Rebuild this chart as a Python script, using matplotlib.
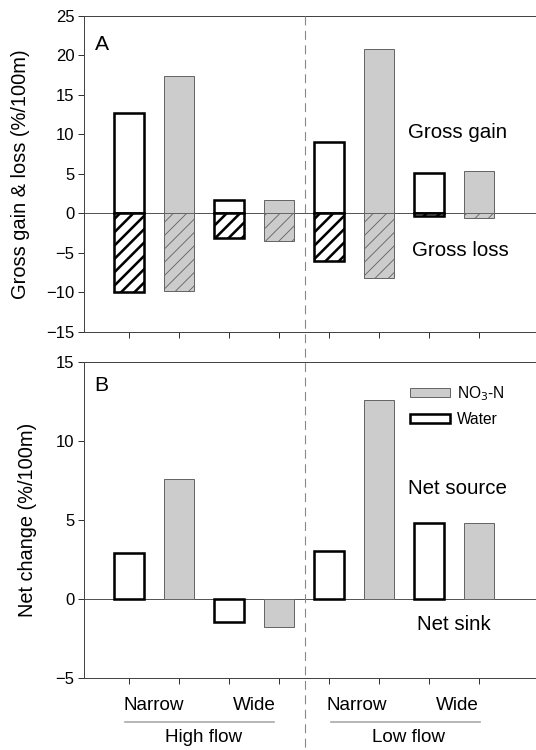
import numpy as np
import matplotlib.pyplot as plt
from matplotlib.lines import Line2D
from matplotlib.patches import Patch

plt.rcParams["font.family"] = ["Liberation Sans", "DejaVu Sans"]

# -----------------------------
# data
# -----------------------------
groups = ["High flow", "Low flow"]
widths = ["Narrow", "Wide"]

# order: High-Narrow, High-Wide, Low-Narrow, Low-Wide
water_gain = [12.7, 1.65, 9.0, 5.15]
water_loss = [-9.95, -3.15, -6.05, -0.3]
no3_gain = [17.4, 1.65, 20.8, 5.3]
no3_loss = [-9.85, -3.5, -8.15, -0.55]

water_net = [2.9, -1.45, 3.05, 4.8]
no3_net = [7.6, -1.75, 12.55, 4.8]

GRAY = "#cccccc"
DPI = 80
W, H = 536, 750

fig = plt.figure(figsize=(W / DPI, H / DPI), dpi=DPI)
fig.patch.set_facecolor("white")

x_water = np.arange(4) * 2
x_no3 = x_water + 1
bw = 0.6

left = 84 / W
width = 490 / W
axA = fig.add_axes([left, 1 - 332 / H, width, 316.3 / H])
axB = fig.add_axes([left, 1 - 678.3 / H, width, 316.6 / H])


def water_bar(ax, x, v, hatch=None):
    bars = ax.bar(x, v, bw, facecolor="white", edgecolor="black",
                  linewidth=2.3, hatch=hatch, zorder=3)
    for b in bars:
        if hatch:
            b.set_hatch_linewidth(2.3)
    return bars


def no3_bar(ax, x, v, hatch=None):
    bars = ax.bar(x, v, bw, facecolor=GRAY, edgecolor="#666666",
                  linewidth=0.9, hatch=hatch, zorder=3)
    for b in bars:
        if hatch:
            b.set_hatch_linewidth(0.8)
    return bars


# -----------------------------
# A: gross gain & loss
# -----------------------------
water_bar(axA, x_water, water_gain)
water_bar(axA, x_water, water_loss, hatch="//")
no3_bar(axA, x_no3, no3_gain)
no3_bar(axA, x_no3, no3_loss, hatch="//")

axA.set_ylim(-15, 25)
axA.set_yticks(np.arange(-15, 26, 5))
axA.set_ylabel("Gross gain & loss (%/100m)", fontsize=18, labelpad=15)
axA.text(-0.68, 21.4, "A", fontsize=19, va="center", ha="left")
axA.text(6.58, 10.2, "Gross gain", fontsize=18.5, va="center", ha="center")
axA.text(6.62, -4.7, "Gross loss", fontsize=18.5, va="center", ha="center")

# -----------------------------
# B: net change
# -----------------------------
water_bar(axB, x_water, water_net)
no3_bar(axB, x_no3, no3_net)

axB.set_ylim(-5, 15)
axB.set_yticks(np.arange(-5, 16, 5))
axB.set_ylabel("Net change (%/100m)", fontsize=18, labelpad=17)
axB.text(-0.7, 13.5, "B", fontsize=19, va="center", ha="left")
axB.text(6.56, 7.0, "Net source", fontsize=18.5, va="center", ha="center")
axB.text(6.5, -1.6, "Net sink", fontsize=18.5, va="center", ha="center")

handles = [
    Patch(facecolor=GRAY, edgecolor="#666666", linewidth=0.9, label="NO$_3$-N"),
    Patch(facecolor="white", edgecolor="black", linewidth=2.3, label="Water"),
]
axB.legend(handles=handles, loc="upper left", bbox_to_anchor=(0.665, 0.93),
           frameon=False, fontsize=14, handlelength=2.6, handleheight=0.55,
           handletextpad=0.45, labelspacing=0.6, borderpad=0, borderaxespad=0)

# -----------------------------
# common axis style
# -----------------------------
for ax in (axA, axB):
    ax.axhline(0, color="#555555", linewidth=0.9, zorder=2)
    ax.set_xlim(-0.9, 8.9)
    ax.set_xticks(np.arange(8))
    ax.set_xticklabels([])
    ax.tick_params(axis="both", direction="out", length=5, width=0.9,
                   color="#333333", labelsize=15)
    for s in ax.spines.values():
        s.set_color("#444444")
        s.set_linewidth(0.9)

# -----------------------------
# category labels under B
# -----------------------------
to_fig = lambda px, py: (px / W, 1 - py / H)
label_x = [(154, 254), (357, 457)]
line_x = [(125, 274), (331, 480)]
group_x = [204, 408]
for g, (lx, ll, gx) in enumerate(zip(label_x, line_x, group_x)):
    for k, name in enumerate(widths):
        fig.text(*to_fig(lx[k], 706), name, fontsize=17, ha="center", va="center")
    fig.add_artist(Line2D([ll[0] / W, ll[1] / W], [1 - 722 / H] * 2,
                          color="#aaaaaa", linewidth=1.5))
    fig.text(*to_fig(gx, 738), groups[g], fontsize=17, ha="center", va="center")

# dashed divider between flow conditions
fig.add_artist(Line2D([305 / W, 305 / W], [1 - 16 / H, 0], color="#888888",
                      linewidth=1.0, linestyle=(0, (8, 5))))

plt.savefig("out.png", dpi=DPI, facecolor="white")
plt.close()
